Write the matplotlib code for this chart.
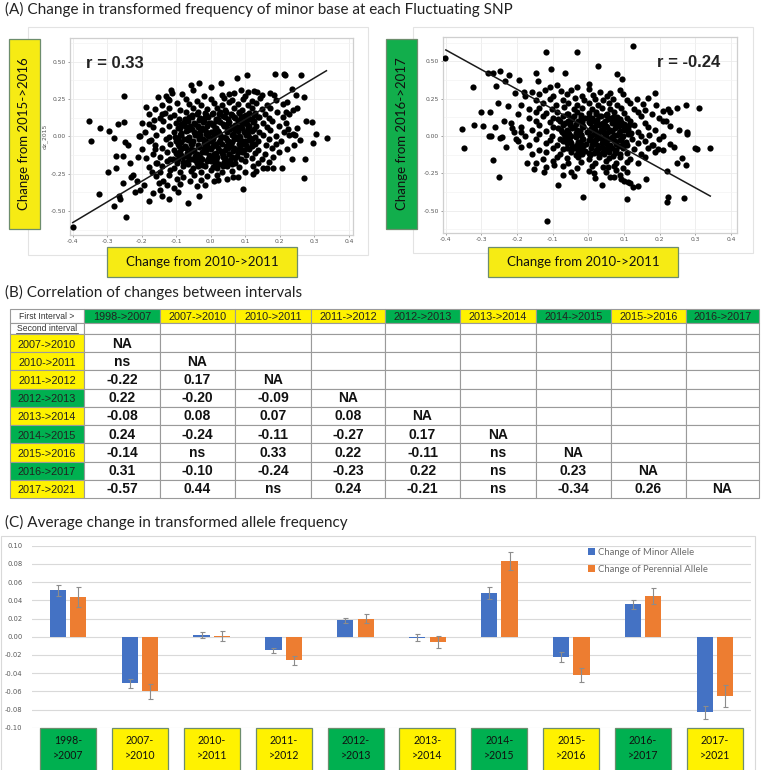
import numpy as np
import matplotlib
matplotlib.use("Agg")
import matplotlib.pyplot as plt
from matplotlib.patches import Rectangle

# ---------------- data ----------------
# panel A, left: change 2010->2011 (x) vs change 2015->2016 (y)
left_outer = [
    (-0.400, -0.610), (-0.352, 0.105), (-0.348, -0.030), (-0.320, 0.058), (-0.325, -0.388),
    (-0.299, -0.241), (-0.294, 0.038), (-0.281, -0.470), (-0.274, -0.210), (-0.274, -0.130),
    (-0.268, 0.083), (-0.267, -0.397), (-0.280, -0.010), (-0.262, -0.420), (-0.255, -0.310),
    (-0.253, -0.134), (-0.252, 0.096), (-0.252, 0.270), (-0.246, -0.540), (-0.250, -0.040),
    (-0.239, -0.060), (-0.235, -0.180), (-0.231, -0.275), (-0.225, -0.260), (-0.219, -0.370),
    (-0.215, -0.300), (-0.212, -0.136), (-0.205, -0.360), (-0.205, 0.005), (-0.194, -0.326),
    (-0.188, 0.200), (-0.180, 0.080), (-0.178, -0.430), (-0.174, -0.025), (-0.170, -0.240),
    (-0.168, -0.380), (-0.165, 0.110), (-0.161, -0.085), (-0.157, -0.180), (-0.150, -0.310),
    (-0.142, 0.150), (-0.140, -0.400), (-0.125, 0.250), (-0.120, -0.420), (-0.114, 0.310),
    (-0.109, -0.154), (-0.094, -0.370), (-0.066, -0.444), (-0.058, 0.344), (-0.033, -0.397),
    (-0.034, 0.355), (0.002, 0.328), (0.029, 0.357), (0.077, 0.388), (0.104, 0.410),
    (0.094, -0.355), (0.186, 0.420), (0.212, 0.420), (0.216, 0.410), (0.261, 0.408),
    (0.269, 0.263), (0.271, -0.280), (0.274, -0.154), (0.276, 0.100), (0.294, 0.094),
    (0.296, -0.042), (0.305, 0.013), (0.337, -0.013), (0.206, -0.214), (0.235, -0.154),
    (0.237, 0.016), (0.244, 0.009), (0.250, 0.190), (0.236, 0.315), (0.248, 0.280),
    (0.219, 0.165), (0.223, 0.047), (0.164, -0.214), (0.180, -0.214), (0.122, -0.250),
    (0.063, -0.270), (0.021, -0.290), (-0.017, -0.326),
]
left_cloud = [
    (-0.112, 0.292), (-0.052, 0.308), (0.052, 0.286), (0.088, 0.312), (0.107, 0.298), (0.124, 0.306), (0.133, 0.296), (0.171, 0.288),
    (-0.152, 0.262), (-0.131, 0.272), (-0.083, 0.281), (-0.021, 0.268), (0.031, 0.277), (0.068, 0.288), (0.098, 0.268), (0.148, 0.279), (0.182, 0.276),
    (-0.121, 0.241), (-0.072, 0.252), (-0.041, 0.238), (0.002, 0.249), (0.038, 0.258), (0.061, 0.243), (0.092, 0.251), (0.118, 0.237), (0.142, 0.257), (0.188, 0.242), (0.221, 0.233),
    (-0.141, 0.212), (-0.098, 0.221), (-0.062, 0.217), (-0.028, 0.208), (0.008, 0.223), (0.031, 0.211), (0.052, 0.228), (0.079, 0.216), (0.108, 0.207), (0.131, 0.222), (0.162, 0.212), (0.209, 0.219),
    (-0.162, 0.182), (-0.121, 0.188), (-0.088, 0.177), (-0.052, 0.191), (-0.012, 0.183), (0.018, 0.192), (0.042, 0.178), (0.068, 0.188), (0.091, 0.176), (0.119, 0.193), (0.148, 0.181), (0.172, 0.187), (0.238, 0.178),
    (-0.178, 0.148), (-0.132, 0.158), (-0.108, 0.146), (-0.071, 0.161), (-0.041, 0.151), (-0.018, 0.159), (0.003, 0.148), (0.028, 0.162), (0.058, 0.152), (0.081, 0.158), (0.102, 0.146), (0.128, 0.157), (0.158, 0.149), (0.192, 0.161), (0.228, 0.152),
    (-0.148, 0.121), (-0.118, 0.131), (-0.091, 0.118), (-0.062, 0.128), (-0.032, 0.121), (-0.008, 0.133), (0.021, 0.118), (0.042, 0.129), (0.071, 0.122), (0.088, 0.132), (0.112, 0.117), (0.141, 0.128), (0.168, 0.121), (0.208, 0.131),
    (-0.198, 0.092), (-0.138, 0.101), (-0.101, 0.088), (-0.078, 0.098), (-0.048, 0.087), (-0.021, 0.102), (0.002, 0.091), (0.028, 0.099), (0.051, 0.088), (0.079, 0.101), (0.098, 0.092), (0.121, 0.098), (0.152, 0.087), (0.178, 0.101), (0.218, 0.091),
    (-0.168, 0.062), (-0.121, 0.071), (-0.088, 0.058), (-0.061, 0.072), (-0.038, 0.061), (-0.012, 0.068), (0.011, 0.057), (0.038, 0.071), (0.061, 0.062), (0.088, 0.068), (0.108, 0.058), (0.131, 0.072), (0.162, 0.061), (0.198, 0.068), (0.251, 0.058),
    (-0.191, 0.031), (-0.141, 0.041), (-0.108, 0.028), (-0.071, 0.038), (-0.048, 0.031), (-0.018, 0.042), (0.001, 0.028), (0.022, 0.039), (0.048, 0.032), (0.071, 0.041), (0.098, 0.028), (0.118, 0.038), (0.141, 0.031), (0.171, 0.042), (0.211, 0.028),
    (-0.208, 0.002), (-0.158, 0.011), (-0.121, -0.002), (-0.088, 0.008), (-0.062, -0.001), (-0.031, 0.012), (-0.008, 0.001), (0.012, 0.009), (0.038, -0.002), (0.062, 0.011), (0.081, 0.001), (0.108, 0.008), (0.128, -0.003), (0.152, 0.012), (0.188, 0.002), (0.228, 0.009),
    (-0.178, -0.028), (-0.131, -0.018), (-0.101, -0.032), (-0.078, -0.021), (-0.051, -0.029), (-0.022, -0.018), (0.002, -0.031), (0.028, -0.022), (0.051, -0.028), (0.068, -0.018), (0.091, -0.032), (0.118, -0.021), (0.138, -0.029), (0.168, -0.019), (0.202, -0.031), (0.258, -0.022),
    (-0.161, -0.058), (-0.118, -0.048), (-0.091, -0.062), (-0.058, -0.051), (-0.038, -0.061), (-0.011, -0.048), (0.008, -0.058), (0.031, -0.051), (0.058, -0.062), (0.081, -0.048), (0.101, -0.058), (0.128, -0.052), (0.161, -0.061), (0.188, -0.049), (0.241, -0.058),
    (-0.198, -0.088), (-0.141, -0.079), (-0.108, -0.091), (-0.071, -0.081), (-0.048, -0.092), (-0.021, -0.078), (0.001, -0.088), (0.021, -0.081), (0.042, -0.092), (0.068, -0.079), (0.088, -0.089), (0.111, -0.082), (0.138, -0.091), (0.178, -0.078), (0.222, -0.088),
    (-0.168, -0.118), (-0.128, -0.108), (-0.098, -0.121), (-0.068, -0.111), (-0.041, -0.119), (-0.018, -0.108), (0.008, -0.121), (0.031, -0.111), (0.052, -0.118), (0.078, -0.108), (0.101, -0.122), (0.128, -0.111), (0.158, -0.119), (0.198, -0.108),
    (-0.188, -0.148), (-0.148, -0.138), (-0.118, -0.151), (-0.081, -0.141), (-0.058, -0.149), (-0.031, -0.138), (-0.008, -0.152), (0.018, -0.141), (0.041, -0.148), (0.061, -0.138), (0.088, -0.151), (0.118, -0.142), (0.148, -0.149), (0.181, -0.139),
    (-0.158, -0.178), (-0.128, -0.168), (-0.098, -0.181), (-0.068, -0.171), (-0.041, -0.179), (-0.012, -0.168), (0.011, -0.181), (0.038, -0.171), (0.071, -0.178), (0.098, -0.168), (0.138, -0.181), (0.168, -0.171),
    (-0.178, -0.208), (-0.141, -0.198), (-0.108, -0.211), (-0.081, -0.201), (-0.051, -0.209), (-0.018, -0.198), (0.018, -0.211), (0.048, -0.201), (0.081, -0.208), (0.121, -0.199), (0.151, -0.211),
    (-0.148, -0.238), (-0.118, -0.228), (-0.088, -0.241), (-0.058, -0.231), (-0.028, -0.239), (0.002, -0.228), (0.031, -0.241), (0.061, -0.231), (0.098, -0.238), (0.131, -0.229),
    (-0.158, -0.268), (-0.121, -0.258), (-0.081, -0.271), (-0.048, -0.261), (-0.011, -0.269), (0.018, -0.258), (0.078, -0.271),
    (-0.138, -0.298), (-0.098, -0.288), (-0.061, -0.301), (-0.028, -0.291), (0.008, -0.302), (0.048, -0.289),
    (-0.128, -0.328), (-0.088, -0.318), (-0.041, -0.331), (-0.148, -0.358), (-0.108, -0.348),
]
left_core = [
    (-0.055, 0.145), (-0.015, 0.141), (0.025, 0.148), (0.061, 0.143), (0.095, 0.139), (0.125, 0.146),
    (-0.075, 0.115), (-0.035, 0.111), (0.015, 0.118), (0.050, 0.113), (0.085, 0.109), (0.120, 0.116),
    (-0.085, 0.085), (-0.045, 0.081), (-0.005, 0.088), (0.035, 0.083), (0.070, 0.079), (0.105, 0.086),
    (-0.095, 0.055), (-0.055, 0.051), (-0.025, 0.058), (0.015, 0.053), (0.055, 0.049), (0.090, 0.056), (0.125, 0.051),
    (-0.085, 0.025), (-0.045, 0.021), (-0.015, 0.028), (0.025, 0.023), (0.065, 0.019), (0.095, 0.026),
    (-0.105, -0.005), (-0.065, -0.009), (-0.035, -0.002), (0.005, -0.007), (0.045, -0.011), (0.085, -0.004), (0.115, -0.008),
    (-0.085, -0.035), (-0.055, -0.039), (-0.015, -0.032), (0.025, -0.037), (0.060, -0.041), (0.100, -0.034),
    (-0.075, -0.065), (-0.035, -0.069), (0.005, -0.062), (0.045, -0.067), (0.085, -0.071), (0.120, -0.064),
    (-0.090, -0.095), (-0.055, -0.099), (-0.015, -0.092), (0.030, -0.097), (0.065, -0.101), (0.095, -0.094),
    (-0.085, -0.125), (-0.045, -0.129), (-0.005, -0.122), (0.035, -0.127), (0.075, -0.131),
    (-0.095, -0.155), (-0.045, -0.159), (-0.025, -0.152), (0.015, -0.157), (0.055, -0.161),
    (-0.065, -0.185), (-0.025, -0.189), (0.025, -0.182), (0.060, -0.187),
    (-0.036, 0.162), (0.006, 0.158), (0.044, 0.165), (0.081, 0.161), (0.112, 0.156),
    (-0.054, 0.131), (-0.016, 0.127), (0.036, 0.134), (0.066, 0.129), (0.101, 0.125), (0.136, 0.132),
    (-0.066, 0.101), (-0.024, 0.097), (0.016, 0.104), (0.054, 0.099), (0.091, 0.095), (0.126, 0.102),
    (-0.074, 0.071), (-0.036, 0.067), (0.006, 0.074), (0.044, 0.069), (0.076, 0.065), (0.111, 0.072),
    (-0.066, 0.041), (-0.031, 0.037), (0.011, 0.044), (0.046, 0.039), (0.079, 0.035), (0.109, 0.042),
    (-0.086, 0.011), (-0.046, 0.007), (-0.014, 0.014), (0.026, 0.009), (0.066, 0.005), (0.101, 0.012),
    (-0.094, -0.019), (-0.066, -0.023), (-0.034, -0.016), (0.006, -0.021), (0.046, -0.025), (0.079, -0.018), (0.111, -0.022),
    (-0.096, -0.049), (-0.054, -0.053), (-0.021, -0.046), (0.016, -0.051), (0.051, -0.055), (0.089, -0.048), (0.119, -0.052),
    (-0.084, -0.079), (-0.056, -0.083), (-0.004, -0.076), (0.049, -0.081), (0.081, -0.085), (0.109, -0.078),
    (-0.101, -0.109), (-0.064, -0.113), (-0.026, -0.106), (0.016, -0.111), (0.054, -0.115), (0.091, -0.108),
    (-0.066, -0.139), (-0.044, -0.143), (0.006, -0.136), (0.036, -0.141), (0.071, -0.145),
    (-0.081, -0.169), (-0.031, -0.173), (0.001, -0.166), (0.049, -0.171),
    (-0.036, -0.201), (0.006, -0.205), (0.036, -0.198),
]
left_fit = (1.384, -0.024)        # slope, intercept of drawn line
left_fit_span = (-0.400, 0.335)
left_r = "r = 0.33"

# panel A, right: change 2010->2011 (x) vs change 2016->2017 (y)
right_outer = [
    (-0.402, 0.525), (-0.354, 0.050), (-0.350, -0.083), (-0.325, 0.326), (-0.320, 0.074),
    (-0.300, 0.163), (-0.295, 0.070), (-0.282, 0.420), (-0.269, 0.424), (-0.280, 0.000),
    (-0.274, 0.000), (-0.269, -0.160), (-0.275, 0.163), (-0.262, 0.062), (-0.260, 0.335),
    (-0.253, 0.223), (-0.251, -0.272), (-0.247, 0.435), (-0.247, -0.016), (-0.242, -0.007),
    (-0.237, 0.103), (-0.233, 0.368), (-0.231, -0.070), (-0.227, 0.200), (-0.222, 0.406),
    (-0.214, 0.056), (-0.205, 0.286), (-0.203, -0.020), (-0.196, 0.373), (-0.180, 0.292),
    (-0.190, 0.030), (-0.190, -0.070), (-0.171, -0.183), (-0.153, -0.220), (-0.147, 0.420),
    (-0.142, 0.368), (-0.124, -0.243), (-0.119, 0.565), (-0.116, -0.570), (-0.105, 0.450),
    (-0.086, -0.328), (-0.066, 0.420), (-0.032, 0.560), (-0.015, -0.406), (0.002, 0.346),
    (0.026, 0.470), (0.039, -0.328), (0.079, 0.415), (0.094, 0.382), (0.108, -0.422),
    (0.124, 0.605), (0.136, 0.250), (0.154, 0.212), (0.163, -0.286), (0.187, 0.286),
    (0.220, -0.232), (0.220, -0.440), (0.222, -0.410), (0.248, 0.185), (0.255, 0.040),
    (0.250, -0.183), (0.262, -0.150), (0.267, -0.417), (0.273, 0.205), (0.273, -0.194),
    (0.278, 0.027), (0.278, 0.013), (0.299, -0.083), (0.304, -0.087), (0.311, 0.185),
    (0.342, -0.080), (0.218, 0.100), (0.224, 0.178), (0.239, -0.071), (0.194, -0.089),
    (0.180, -0.060), (0.138, -0.333), (0.126, -0.340), (0.110, -0.306), (0.072, -0.272),
    (0.054, -0.210), (0.017, -0.245), (-0.070, -0.260), (-0.096, -0.194),
]
right_cloud = [
    (-0.108, 0.331), (-0.088, 0.342), (-0.031, 0.328), (0.002, 0.318),
    (-0.158, 0.298), (-0.121, 0.311), (-0.078, 0.302), (-0.048, 0.308), (0.032, 0.298), (0.061, 0.288), (0.088, 0.309),
    (-0.178, 0.268), (-0.138, 0.279), (-0.098, 0.271), (-0.061, 0.282), (-0.018, 0.268), (0.012, 0.278), (0.051, 0.271), (0.098, 0.281),
    (-0.148, 0.238), (-0.108, 0.251), (-0.071, 0.242), (-0.038, 0.252), (-0.011, 0.238), (0.018, 0.248), (0.041, 0.239), (0.068, 0.251), (0.108, 0.241), (0.168, 0.252),
    (-0.188, 0.208), (-0.128, 0.221), (-0.091, 0.211), (-0.058, 0.222), (-0.031, 0.208), (0.001, 0.219), (0.028, 0.211), (0.058, 0.222), (0.081, 0.208), (0.118, 0.219), (0.191, 0.209),
    (-0.168, 0.178), (-0.138, 0.191), (-0.101, 0.181), (-0.068, 0.192), (-0.041, 0.178), (-0.018, 0.188), (0.011, 0.181), (0.038, 0.191), (0.061, 0.178), (0.091, 0.188), (0.128, 0.181), (0.158, 0.171), (0.208, 0.168),
    (-0.198, 0.148), (-0.148, 0.161), (-0.118, 0.151), (-0.088, 0.162), (-0.058, 0.148), (-0.031, 0.158), (0.002, 0.151), (0.021, 0.162), (0.051, 0.148), (0.071, 0.158), (0.101, 0.151), (0.138, 0.161), (0.178, 0.148), (0.228, 0.158),
    (-0.168, 0.118), (-0.128, 0.131), (-0.098, 0.121), (-0.071, 0.132), (-0.048, 0.118), (-0.021, 0.128), (0.011, 0.121), (0.031, 0.132), (0.058, 0.118), (0.081, 0.128), (0.108, 0.121), (0.148, 0.131), (0.198, 0.118),
    (-0.218, 0.088), (-0.148, 0.101), (-0.108, 0.091), (-0.081, 0.102), (-0.051, 0.088), (-0.028, 0.098), (0.002, 0.091), (0.021, 0.101), (0.041, 0.088), (0.068, 0.098), (0.091, 0.091), (0.118, 0.102), (0.158, 0.088), (0.208, 0.098),
    (-0.188, 0.058), (-0.138, 0.071), (-0.098, 0.061), (-0.071, 0.072), (-0.041, 0.058), (-0.018, 0.068), (0.011, 0.061), (0.031, 0.072), (0.051, 0.058), (0.078, 0.068), (0.101, 0.061), (0.128, 0.071), (0.168, 0.058), (0.228, 0.068),
    (-0.208, 0.028), (-0.158, 0.041), (-0.118, 0.031), (-0.078, 0.042), (-0.058, 0.028), (-0.031, 0.038), (0.001, 0.031), (0.018, 0.042), (0.041, 0.028), (0.061, 0.038), (0.088, 0.031), (0.108, 0.042), (0.138, 0.028), (0.188, 0.038),
    (-0.178, -0.002), (-0.138, 0.011), (-0.101, -0.001), (-0.068, 0.012), (-0.048, -0.002), (-0.021, 0.008), (0.008, -0.001), (0.028, 0.012), (0.048, -0.002), (0.071, 0.008), (0.098, -0.001), (0.118, 0.011), (0.148, -0.002), (0.171, 0.008), (0.208, -0.001),
    (-0.198, -0.032), (-0.148, -0.018), (-0.108, -0.029), (-0.081, -0.018), (-0.051, -0.032), (-0.018, -0.021), (0.002, -0.029), (0.021, -0.018), (0.041, -0.031), (0.068, -0.022), (0.088, -0.029), (0.121, -0.018), (0.158, -0.031), (0.198, -0.021),
    (-0.168, -0.062), (-0.118, -0.048), (-0.088, -0.059), (-0.061, -0.048), (-0.031, -0.062), (-0.008, -0.051), (0.011, -0.059), (0.038, -0.048), (0.061, -0.061), (0.078, -0.052), (0.108, -0.059), (0.138, -0.048), (0.178, -0.061), (0.228, -0.051),
    (-0.138, -0.092), (-0.098, -0.078), (-0.071, -0.089), (-0.038, -0.078), (-0.021, -0.092), (0.008, -0.081), (0.028, -0.089), (0.051, -0.078), (0.078, -0.091), (0.098, -0.082), (0.128, -0.089), (0.168, -0.078), (0.208, -0.091),
    (-0.158, -0.122), (-0.118, -0.108), (-0.081, -0.119), (-0.048, -0.108), (-0.018, -0.121), (0.002, -0.111), (0.031, -0.119), (0.058, -0.108), (0.088, -0.121), (0.108, -0.112), (0.148, -0.119), (0.188, -0.108),
    (-0.128, -0.152), (-0.088, -0.138), (-0.061, -0.149), (-0.028, -0.138), (0.001, -0.152), (0.031, -0.141), (0.058, -0.149), (0.088, -0.138), (0.118, -0.151), (0.158, -0.142),
    (-0.148, -0.178), (-0.098, -0.168), (-0.058, -0.181), (-0.021, -0.171), (0.018, -0.178), (0.048, -0.168), (0.078, -0.181), (0.108, -0.171), (0.138, -0.179),
    (-0.118, -0.208), (-0.071, -0.198), (-0.031, -0.211), (0.011, -0.201), (0.041, -0.209), (0.071, -0.198), (0.098, -0.211),
    (-0.048, -0.238), (0.002, -0.231), (0.048, -0.241), (0.078, -0.229), (0.108, -0.238), (0.088, -0.258),
    (-0.041, -0.268), (0.018, -0.278), (0.061, -0.271), (0.091, -0.288), (0.101, -0.301), (0.118, -0.311),
]
right_core = [
    (-0.060, 0.145), (-0.020, 0.141), (0.020, 0.148), (0.050, 0.139),
    (-0.085, 0.115), (-0.045, 0.111), (-0.010, 0.118), (0.025, 0.109), (0.055, 0.116), (0.090, 0.112),
    (-0.065, 0.085), (-0.035, 0.081), (0.005, 0.088), (0.035, 0.079), (0.065, 0.086), (0.100, 0.082),
    (-0.085, 0.055), (-0.045, 0.051), (-0.015, 0.058), (0.015, 0.049), (0.045, 0.056), (0.075, 0.052), (0.110, 0.047),
    (-0.075, 0.025), (-0.035, 0.021), (-0.005, 0.028), (0.025, 0.019), (0.055, 0.026), (0.085, 0.022), (0.120, 0.018),
    (-0.065, -0.005), (-0.035, -0.009), (0.005, -0.002), (0.035, -0.011), (0.065, -0.004), (0.095, -0.008),
    (-0.070, -0.035), (-0.030, -0.039), (0.010, -0.032), (0.045, -0.041), (0.075, -0.034), (0.105, -0.038),
    (-0.045, -0.065), (-0.015, -0.069), (0.025, -0.062), (0.055, -0.071), (0.085, -0.064),
    (-0.050, -0.095), (-0.010, -0.099), (0.020, -0.092), (0.045, -0.101), (0.075, -0.094),
    (-0.035, -0.125), (0.005, -0.129), (0.045, -0.122), (0.070, -0.131),
    (-0.041, 0.131), (0.001, 0.127), (0.036, 0.134), (0.069, 0.128),
    (-0.056, 0.101), (-0.019, 0.097), (0.011, 0.104), (0.046, 0.099), (0.081, 0.095),
    (-0.051, 0.071), (-0.014, 0.067), (0.021, 0.074), (0.049, 0.069), (0.086, 0.065), (0.114, 0.072),
    (-0.061, 0.041), (-0.024, 0.037), (0.006, 0.044), (0.036, 0.039), (0.066, 0.035), (0.099, 0.042),
    (-0.054, 0.011), (-0.021, 0.007), (0.016, 0.014), (0.046, 0.009), (0.079, 0.005), (0.111, 0.012),
    (-0.056, -0.019), (-0.014, -0.023), (0.026, -0.016), (0.054, -0.021), (0.091, -0.025),
    (-0.049, -0.049), (-0.021, -0.053), (0.019, -0.046), (0.051, -0.051), (0.096, -0.055),
    (-0.061, -0.079), (-0.029, -0.083), (0.039, -0.076), (0.066, -0.081),
    (-0.029, -0.109), (0.016, -0.113), (0.041, -0.106), (0.076, -0.111),
]
right_fit = (-1.318, 0.049)
right_fit_span = (-0.400, 0.342)
right_r = "r = -0.24"

# panel B: correlation of changes between intervals (lower triangle)
intervals = ["1998->2007", "2007->2010", "2010->2011", "2011->2012", "2012->2013",
             "2013->2014", "2014->2015", "2015->2016", "2016->2017", "2017->2021"]
interval_kind = ["g", "y", "y", "y", "g", "y", "g", "y", "g", "y"]
corr_rows = [
    ["NA"],
    ["ns", "NA"],
    ["-0.22", "0.17", "NA"],
    ["0.22", "-0.20", "-0.09", "NA"],
    ["-0.08", "0.08", "0.07", "0.08", "NA"],
    ["0.24", "-0.24", "-0.11", "-0.27", "0.17", "NA"],
    ["-0.14", "ns", "0.33", "0.22", "-0.11", "ns", "NA"],
    ["0.31", "-0.10", "-0.24", "-0.23", "0.22", "ns", "0.23", "NA"],
    ["-0.57", "0.44", "ns", "0.24", "-0.21", "ns", "-0.34", "0.26", "NA"],
]

# panel C: average change in transformed allele frequency
minor_change = [0.051, -0.051, 0.002, -0.015, 0.018, -0.001, 0.048, -0.022, 0.0355, -0.083]
minor_err = [0.006, 0.005, 0.0035, 0.003, 0.003, 0.004, 0.007, 0.0055, 0.005, 0.0073]
perennial_change = [0.044, -0.060, 0.001, -0.026, 0.020, -0.006, 0.0835, -0.0425, 0.0447, -0.0648]
perennial_err = [0.011, 0.0085, 0.0055, 0.005, 0.0045, 0.0065, 0.010, 0.0077, 0.0084, 0.012]

# ---------------- styling ----------------
W, H = 762, 770
YEL_A, GRN_A = "#F6EB14", "#12AE4C"
YEL_T, GRN_T = "#FFF200", "#00B050"
BLUE, ORANGE = "#4472C4", "#ED7D31"
CAL = ["Lato", "DejaVu Sans"]
ARIAL = ["Liberation Sans", "DejaVu Sans"]


def box(x0, y0, x1, y1):
    # pixel box (origin top-left) -> figure fraction rect
    return [x0 / W, 1 - y1 / H, (x1 - x0) / W, (y1 - y0) / H]


fig = plt.figure(figsize=(W / 100, H / 100), dpi=100)
ov = fig.add_axes([0, 0, 1, 1])
ov.set_xlim(0, W)
ov.set_ylim(H, 0)
ov.axis("off")


def frame(x0, y0, x1, y1, fc="none", ec="#e3e3e3", lw=0.8, z=1):
    ov.add_patch(Rectangle((x0, y0), x1 - x0, y1 - y0, facecolor=fc,
                           edgecolor=ec, linewidth=lw, zorder=z, clip_on=False))


def label_box(x0, y0, x1, y1, color, text, rot=0):
    frame(x0, y0, x1, y1, fc=color, ec="#6d8d6d", lw=0.9, z=2)
    ov.text((x0 + x1) / 2, (y0 + y1) / 2, text, rotation=rot, ha="center",
            va="center", fontsize=9.5, family=CAL, color="#111111", zorder=3)


# titles
ov.text(5, 9, "(A) Change in transformed frequency of minor base at each Fluctuating SNP",
        fontsize=10.95, family=CAL, va="center", color="#222222")
ov.text(5, 292, "(B) Correlation of changes between intervals",
        fontsize=10.95, family=CAL, va="center", color="#222222")
ov.text(5, 522, "(C) Average change in transformed allele frequency",
        fontsize=10.95, family=CAL, va="center", color="#222222")

# ---------------- panel A ----------------
frame(28, 27, 368, 255)
frame(413, 27, 753, 253)


def scatter_panel(rect, pts, fit, span, xlim, ylim, ylabel=None):
    ax = fig.add_axes(rect)
    xs, ys = zip(*pts)
    ax.scatter(xs, ys, s=20, color="black", linewidths=0, zorder=3)
    lx = np.array(span)
    ax.plot(lx, fit[0] * lx + fit[1], color="#1a1a1a", lw=1.1, zorder=4)
    ax.set_xlim(xlim)
    ax.set_ylim(ylim)
    ax.set_xticks([-0.4, -0.3, -0.2, -0.1, 0.0, 0.1, 0.2, 0.3, 0.4])
    ax.set_xticklabels(["-0.4", "-0.3", "-0.2", "-0.1", "0.0", "0.1", "0.2", "0.3", "0.4"])
    ax.set_yticks([-0.5, -0.25, 0.0, 0.25, 0.5])
    ax.set_yticklabels(["-0.50", "-0.25", "0.00", "0.25", "0.50"])
    ax.set_yticks([-0.625, -0.375, -0.125, 0.125, 0.375, 0.625], minor=True)
    ax.grid(which="major", color="#ebebeb", lw=0.6, zorder=0)
    ax.grid(which="minor", axis="y", color="#f3f3f3", lw=0.5, zorder=0)
    ax.tick_params(labelsize=4.3, colors="#555555", length=1.5, width=0.4, pad=1.5)
    ax.tick_params(which="minor", length=0)
    for sp in ax.spines.values():
        sp.set_color("#cfcfcf")
        sp.set_linewidth(0.9)
    if ylabel:
        ax.set_ylabel(ylabel, fontsize=4.3, color="#555555", labelpad=2)
    return ax


ax_l = scatter_panel(box(70, 38, 353, 235), left_outer + left_cloud + left_core,
                     left_fit, left_fit_span, (-0.408, 0.412), (-0.661, 0.659), "dz_2015")
ax_l.text(0.058, 0.87, left_r, transform=ax_l.transAxes, fontsize=12,
          fontweight="bold", family=ARIAL, color="#222222", va="center")
ax_r = scatter_panel(box(443, 37, 737, 233), right_outer + right_cloud + right_core,
                     right_fit, right_fit_span, (-0.408, 0.417), (-0.649, 0.663))
ax_r.text(0.728, 0.87, right_r, transform=ax_r.transAxes, fontsize=12,
          fontweight="bold", family=ARIAL, color="#222222", va="center")

label_box(9, 39, 40, 229, YEL_A, "Change from 2015->2016", rot=90)
label_box(107, 247, 297, 277, YEL_A, "Change from 2010->2011")
label_box(386, 39, 417, 229, GRN_A, "Change from 2016->2017", rot=90)
label_box(488, 247, 678, 277, YEL_A, "Change from 2010->2011")

# ---------------- panel B: table ----------------
col_edges = [10, 84, 160, 235, 311, 385, 460, 536, 611, 686, 759]
row_edges = [309, 323, 334] + [334 + 18.22 * (i + 1) for i in range(9)]
kind_col = {"g": GRN_T, "y": YEL_T}
grid_c = "#9a9a9a"


def cell(ci, ri, fc="white"):
    x0, x1 = col_edges[ci], col_edges[ci + 1]
    y0, y1 = row_edges[ri], row_edges[ri + 1]
    frame(x0, y0, x1, y1, fc=fc, ec=grid_c, lw=0.8, z=2)
    return (x0 + x1) / 2, (y0 + y1) / 2


cx, cy = cell(0, 0)
ov.text(cx, cy + 0.5, "First Interval >", ha="center", va="center", fontsize=6.2,
        family=ARIAL, color="#333333", zorder=3)
cx, cy = cell(0, 1)
ov.text(cx, cy, "Second interval", ha="center", va="center", fontsize=6.2,
        family=ARIAL, color="#333333", zorder=3)
ov.plot([cx - 31, cx + 31], [cy + 4.6, cy + 4.6], color="#333333", lw=0.5, zorder=3)
for j, name in enumerate(intervals[:9]):
    cx, cy = cell(j + 1, 0, kind_col[interval_kind[j]])
    ov.text(cx, cy + 0.5, name, ha="center", va="center", fontsize=7.8,
            family=ARIAL, color="#222222", zorder=3)
    cell(j + 1, 1)
for i, vals in enumerate(corr_rows):
    cx, cy = cell(0, i + 2, kind_col[interval_kind[i + 1]])
    ov.text(cx, cy + 1.5, intervals[i + 1], ha="center", va="center", fontsize=7.8,
            family=ARIAL, color="#222222", zorder=3)
    for j in range(9):
        cx, cy = cell(j + 1, i + 2)
        if j < len(vals):
            ov.text(cx, cy + 0.5, vals[j], ha="center", va="center", fontsize=10,
                    fontweight="bold", family=ARIAL, color="#111111", zorder=3)

# ---------------- panel C ----------------
frame(1, 536, 755, 771, ec="#d9d9d9")
ax_c = fig.add_axes(box(32, 545.7, 751, 727.7))
pos = np.arange(len(intervals))
ax_c.bar(pos - 0.142, minor_change, width=0.225, color=BLUE, yerr=minor_err,
         error_kw=dict(ecolor="#8c8c8c", elinewidth=0.8, capsize=1.8, capthick=0.8),
         label="Change of Minor Allele", zorder=3)
ax_c.bar(pos + 0.142, perennial_change, width=0.225, color=ORANGE, yerr=perennial_err,
         error_kw=dict(ecolor="#8c8c8c", elinewidth=0.8, capsize=1.8, capthick=0.8),
         label="Change of Perennial Allele", zorder=3)
ax_c.set_xlim(-0.5, len(intervals) - 0.5)
ax_c.set_ylim(-0.10, 0.10)
yt = np.round(np.arange(-0.10, 0.101, 0.02), 2)
ax_c.set_yticks(yt)
ax_c.set_yticklabels([f"{v:.2f}" for v in yt])
ax_c.set_xticks([])
ax_c.grid(axis="y", color="#d9d9d9", lw=0.8, zorder=0)
ax_c.tick_params(axis="y", length=0, labelsize=4.9, labelcolor="#595959", pad=7)
for sp in ax_c.spines.values():
    sp.set_visible(False)
leg = ax_c.legend(loc="upper left", bbox_to_anchor=(583 / W, 1 - 543 / H),
                  bbox_transform=fig.transFigure, frameon=False, fontsize=6.8,
                  handlelength=0.75, handleheight=0.75, handletextpad=0.35,
                  labelspacing=0.85, borderpad=0)
for t in leg.get_texts():
    t.set_color("#6b6b6b")
    t.set_family(CAL)

# category boxes under the bars
for k, name in enumerate(intervals):
    trans = ax_c.get_xaxis_transform()
    ax_c.add_patch(Rectangle((k - 0.39, -0.33), 0.78, 0.33, transform=trans,
                             facecolor=kind_col[interval_kind[k]], edgecolor="#6d8d6d",
                             linewidth=0.9, clip_on=False, zorder=2))
    ax_c.text(k, -0.113, name.replace("->", "-\n>"), transform=trans, ha="center",
              va="center", fontsize=7.6, family=CAL, color="#111111",
              linespacing=1.45, clip_on=False, zorder=3)

fig.savefig("out.png", dpi=100)
